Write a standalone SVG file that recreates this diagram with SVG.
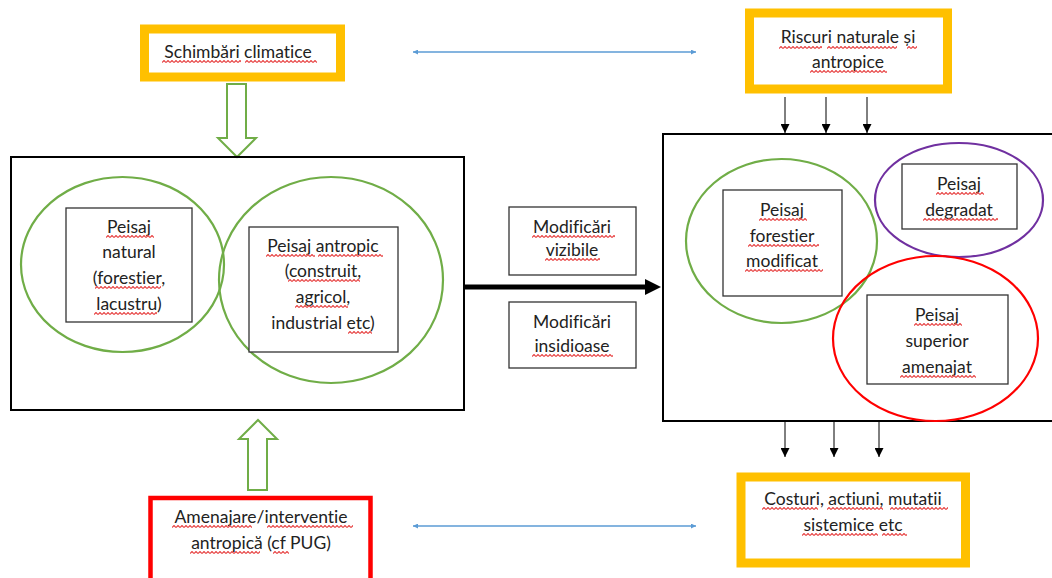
<svg xmlns="http://www.w3.org/2000/svg" width="1052" height="578" viewBox="0 0 1052 578">
<style>
text{font-family:Lato,"Liberation Sans",sans-serif;font-size:17.5px;fill:#222;text-anchor:middle;font-variant-ligatures:none;font-feature-settings:"liga" 0,"clig" 0}
.sg{fill:url(#squig)}
.ob{fill:#fff;stroke:#FFC000;stroke-width:9}
.ib{fill:#fff;stroke:#333;stroke-width:1.3}
.big{fill:none;stroke:#000;stroke-width:2}
.ell{fill:none;stroke-width:2.2}
.ha{fill:#fff;stroke:#70AD47;stroke-width:2}
.blue{stroke:#5B9BD5;stroke-width:1.5;fill:none}
.thin{stroke:#000;stroke-width:1;fill:none}
</style>
<defs>
<pattern id="squig" patternUnits="userSpaceOnUse" width="4" height="3"><path d="M0,2.5L2,0.5L4,2.5" fill="none" stroke="#E84848" stroke-width="1.2"/></pattern>
<marker id="bh" viewBox="0 0 10 10" refX="10" refY="5" markerWidth="5" markerHeight="5" orient="auto-start-reverse" markerUnits="userSpaceOnUse"><path d="M0,0L10,5L0,10z" fill="#5B9BD5"/></marker>
<marker id="kh" viewBox="0 0 10 10" refX="10" refY="5" markerWidth="9" markerHeight="9" orient="auto" markerUnits="userSpaceOnUse"><path d="M0,0L10,5L0,10z" fill="#000"/></marker>
</defs>
<rect width="1052" height="578" fill="#fff"/>

<g id="connectors">
<line class="blue" x1="413" y1="52" x2="696" y2="52" marker-start="url(#bh)" marker-end="url(#bh)"/>
<line class="blue" x1="413" y1="526" x2="696" y2="526" marker-start="url(#bh)" marker-end="url(#bh)"/>
<line class="thin" x1="785" y1="97" x2="785" y2="133" marker-end="url(#kh)"/>
<line class="thin" x1="826" y1="97" x2="826" y2="133" marker-end="url(#kh)"/>
<line class="thin" x1="867" y1="97" x2="867" y2="133" marker-end="url(#kh)"/>
<line class="thin" x1="785" y1="421" x2="785" y2="457" marker-end="url(#kh)"/>
<line class="thin" x1="834" y1="421" x2="834" y2="457" marker-end="url(#kh)"/>
<line class="thin" x1="879" y1="421" x2="879" y2="457" marker-end="url(#kh)"/>
<path d="M464,287H646" stroke="#000" stroke-width="5" fill="none"/>
<path d="M645,279L661,287L645,295z" fill="#000"/>
<path class="ha" d="M227,84H246V138H256L237,157L218,138H227z"/>
<path class="ha" d="M248,490V439H239L258,420L277,439H267V490z"/>
</g>

<g id="schimbari">
<rect class="ob" x="144.5" y="29" width="196" height="48"/>
<text x="238" y="58">Schimbări climatice</text>
<rect class="sg" transform="translate(162,60)" width="79" height="3"/>
<rect class="sg" transform="translate(245,60)" width="72" height="3"/>
</g>

<g id="riscuri">
<rect class="ob" x="749.5" y="13" width="198" height="76"/>
<text x="848" y="43">Riscuri naturale și</text>
<text x="848" y="68">antropice</text>
<rect class="sg" transform="translate(779,46)" width="43" height="3"/>
<rect class="sg" transform="translate(827,46)" width="70" height="3"/>
<rect class="sg" transform="translate(907,46)" width="10" height="3"/>
<rect class="sg" transform="translate(810,70)" width="77" height="3"/>
</g>

<g id="peisaj-initial">
<rect class="big" x="11" y="157" width="453" height="253"/>
<ellipse class="ell" stroke="#70AD47" cx="122.5" cy="264.5" rx="101.5" ry="87.5"/>
<ellipse class="ell" stroke="#70AD47" cx="331" cy="280" rx="112" ry="103"/>
<g id="peisaj-natural">
<rect class="ib" x="66" y="208" width="126" height="114"/>
<text x="129" y="233">Peisaj</text>
<text x="129" y="258">natural</text>
<text x="129" y="284">(forestier,</text>
<text x="129" y="310">lacustru)</text>
<rect class="sg" transform="translate(106,235)" width="48" height="3"/>
<rect class="sg" transform="translate(95,286)" width="66" height="3"/>
<rect class="sg" transform="translate(94,312)" width="63" height="3"/>
</g>
<g id="peisaj-antropic">
<rect class="ib" x="249" y="227" width="149" height="125"/>
<text x="323" y="252">Peisaj antropic</text>
<text x="323" y="277">(construit,</text>
<text x="323" y="303">agricol,</text>
<text x="323" y="329">industrial etc)</text>
<rect class="sg" transform="translate(266,254)" width="49" height="3"/>
<rect class="sg" transform="translate(318,254)" width="65" height="3"/>
<rect class="sg" transform="translate(288,279)" width="72" height="3"/>
<rect class="sg" transform="translate(295,305)" width="53" height="3"/>
<rect class="sg" transform="translate(348,331)" width="24" height="3"/>
</g>
</g>

<g id="modificari-vizibile">
<rect class="ib" x="509" y="207" width="127" height="68"/>
<text x="572" y="233">Modificări</text>
<text x="572" y="256">vizibile</text>
<rect class="sg" transform="translate(532,235)" width="83" height="3"/>
<rect class="sg" transform="translate(545,258)" width="55" height="3"/>
</g>

<g id="modificari-insidioase">
<rect class="ib" x="509" y="302" width="127" height="66"/>
<text x="572" y="328">Modificări</text>
<text x="572" y="352">insidioase</text>
<rect class="sg" transform="translate(532,354)" width="81" height="3"/>
</g>

<g id="peisaj-rezultat">
<rect class="big" x="663" y="134" width="400" height="287"/>
<g id="peisaj-forestier-modificat">
<ellipse class="ell" stroke="#70AD47" cx="781.5" cy="241" rx="95.5" ry="82"/>
<rect class="ib" x="723" y="190" width="119" height="106"/>
<text x="782" y="216">Peisaj</text>
<text x="782" y="242">forestier</text>
<text x="782" y="267">modificat</text>
<rect class="sg" transform="translate(759,218)" width="48" height="3"/>
<rect class="sg" transform="translate(748,244)" width="71" height="3"/>
<rect class="sg" transform="translate(745,269)" width="78" height="3"/>
</g>
<g id="peisaj-degradat">
<ellipse class="ell" stroke="#7030A0" cx="959" cy="200" rx="84" ry="57"/>
<rect class="ib" x="902" y="164" width="115" height="65"/>
<text x="959" y="190">Peisaj</text>
<text x="959" y="216">degradat</text>
<rect class="sg" transform="translate(936,192)" width="48" height="3"/>
<rect class="sg" transform="translate(923,218)" width="75" height="3"/>
</g>
<g id="peisaj-superior">
<ellipse class="ell" stroke="#FF0000" cx="935.5" cy="338.5" rx="102.5" ry="82.5"/>
<rect class="ib" x="867" y="295" width="141" height="89"/>
<text x="937" y="321">Peisaj</text>
<text x="937" y="347">superior</text>
<text x="937" y="373">amenajat</text>
<rect class="sg" transform="translate(914,323)" width="48" height="3"/>
<rect class="sg" transform="translate(900,375)" width="76" height="3"/>
</g>
</g>

<g id="amenajare">
<rect x="150.5" y="498" width="220" height="100" fill="#fff" stroke="#FF0000" stroke-width="4.5"/>
<text x="261" y="523">Amenajare/interventie</text>
<text x="261" y="549">antropică (cf PUG)</text>
<rect class="sg" transform="translate(172,525)" width="80" height="3"/>
<rect class="sg" transform="translate(267,525)" width="86" height="3"/>
<rect class="sg" transform="translate(190,551)" width="70" height="3"/>
<rect class="sg" transform="translate(273,551)" width="16" height="3"/>
</g>

<g id="costuri">
<rect class="ob" x="741" y="477" width="224.5" height="86"/>
<text x="853" y="505">Costuri, actiuni, mutatii</text>
<text x="853" y="531">sistemice etc</text>
<rect class="sg" transform="translate(762,507)" width="56" height="3"/>
<rect class="sg" transform="translate(827,507)" width="56" height="3"/>
<rect class="sg" transform="translate(890,507)" width="58" height="3"/>
<rect class="sg" transform="translate(802,533)" width="76" height="3"/>
<rect class="sg" transform="translate(882,533)" width="25" height="3"/>
</g>
</svg>
